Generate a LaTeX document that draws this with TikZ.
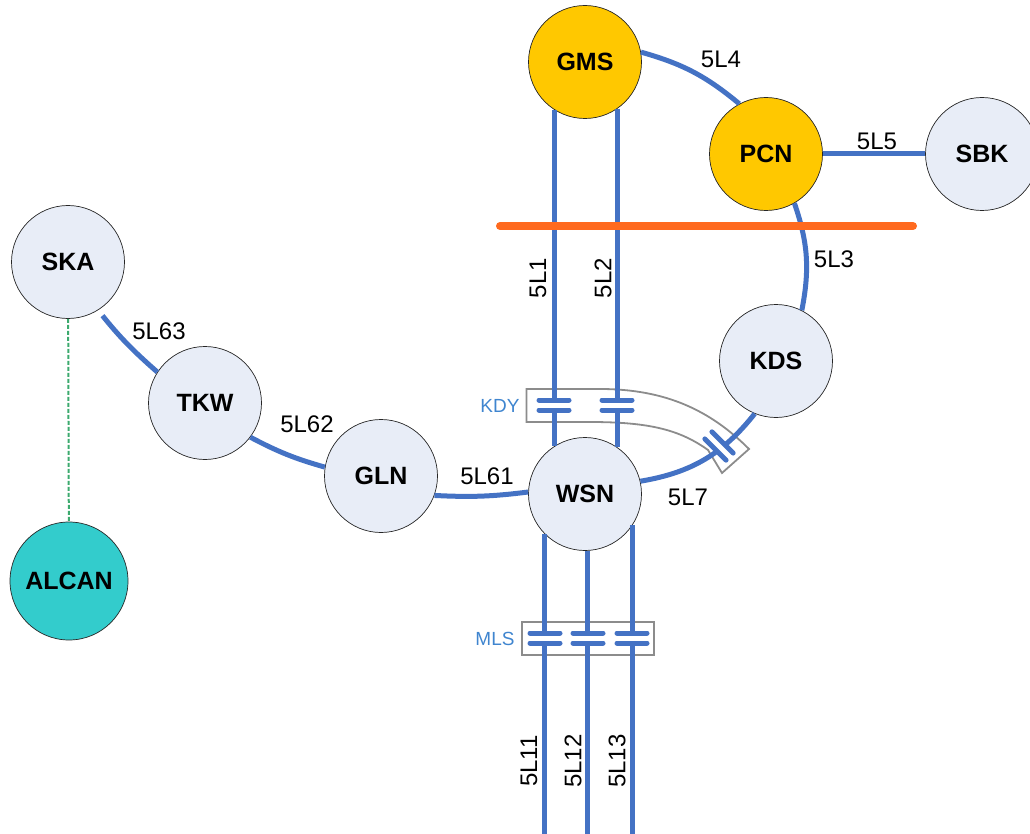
\documentclass[tikz,border=0pt]{standalone}
\usepackage{fontspec}
\setmainfont{Liberation Sans}
\definecolor{linkblue}{HTML}{4472C4}
\definecolor{boxgray}{HTML}{8C8C8C}
\definecolor{stationfill}{HTML}{E8EDF7}
\definecolor{goldfill}{HTML}{FFC800}
\definecolor{tealfill}{HTML}{33CCCC}
\definecolor{cutorange}{HTML}{FF6A1F}
\definecolor{capblue}{HTML}{3F85CF}
\definecolor{tiegreen}{HTML}{3CAA6E}
\tikzset{
  x=1pt,y=-1pt,
  station/.style={circle,draw=black!85,line width=0.7pt,fill=stationfill,minimum size=113pt,inner sep=0pt,font=\fontsize{25}{27}\selectfont\bfseries},
  gold/.style={station,fill=goldfill},
  teal/.style={station,fill=tealfill,minimum size=118pt},
  link/.style={draw=linkblue,line width=5pt},
  lbl/.style={font=\fontsize{24}{26}\selectfont,inner sep=0pt,text=black},
  caplbl/.style={font=\fontsize{19}{21}\selectfont,inner sep=0pt,text=capblue},
  capbox/.style={draw=boxgray,line width=1.8pt},
  plate/.style={draw=linkblue,line width=5pt,line cap=round},
  capacitor/.pic={
    \fill[white] (-15,-5) rectangle (15,5);
    \draw[plate] (-15,-5) -- (15,-5);
    \draw[plate] (-15,5) -- (15,5);
  }
}
\begin{document}
\begin{tikzpicture}
\useasboundingbox (0,0) rectangle (1030,834);
\coordinate (bottom) at (0,834);
% stations
\node[gold] (GMS) at (585,62) {GMS};
\node[gold] (PCN) at (766,154) {PCN};
\node[station] (SBK) at (982,154) {SBK};
\node[station] (KDS) at (776,361) {KDS};
\node[station] (WSN) at (585,494) {WSN};
\node[station] (GLN) at (381,476) {GLN};
\node[station] (TKW) at (205,403) {TKW};
\node[station] (SKA) at (68,262) {SKA};
\node[teal] (ALCAN) at (69,581) {ALCAN};
% capacitor boxes
\draw[capbox] (526.5,389) -- (600,389) .. controls (665,389) and (710,410) .. (749,449) -- (722,473) -- (708,450) .. controls (680,430) and (650,422) .. (590,422) -- (526.5,422) -- cycle;
\draw[capbox] (522,622) rectangle (654,655);
% connectors
\draw[link] (GMS.-123) -- (WSN.123);
\draw[link] (GMS.-55.5) -- (WSN.55.5);
\draw[link] (GMS.10) to[bend left=12] (PCN.118);
\draw[link] (PCN.east) -- (SBK.west);
\draw[link] (PCN.-60) to[bend left=15] (KDS.63);
\draw[link] (KDS.-112) to[bend left=21] (WSN.13);
\draw[link] (GLN.-20) to[bend right=5] (WSN.178);
\draw[link] (TKW.-37) to[bend right=6] (GLN.171);
\draw[link,shorten <=7pt] (SKA.-58) to[bend right=5] (TKW.147);
\draw[link] (WSN.-135) -- (WSN.-135 |- bottom);
\draw[link] (WSN.-87) -- (WSN.-87 |- bottom);
\draw[link] (WSN.-33.7) -- (WSN.-33.7 |- bottom);
\draw[tiegreen,line width=2pt,dash pattern=on 4pt off 2pt] (SKA) -- (ALCAN);
\draw[cutorange,line width=8pt,line cap=round] (500,226) -- (913,226);
% capacitors
\pic at (554,405) {capacitor};
\pic at (617,405) {capacitor};
\pic[rotate=-45] at (719,446) {capacitor};
\pic at (545,638) {capacitor};
\pic at (588,638) {capacitor};
\pic at (632,638) {capacitor};
% labels
\node[lbl] (l4) at (721,59) {5L4};
\node[lbl] (l5) at (877,141) {5L5};
\node[lbl] (l3) at (834,259) {5L3};
\node[lbl] (l63) at (159,331) {5L63};
\node[lbl] (l62) at (307,424) {5L62};
\node[lbl] (l61) at (487,476) {5L61};
\node[lbl] (l7) at (688,497) {5L7};
\node[lbl,rotate=90] (l1) at (538,278) {5L1};
\node[lbl,rotate=90] (l2) at (603,278) {5L2};
\node[lbl,rotate=90] (l11) at (529,761) {5L11};
\node[lbl,rotate=90] (l12) at (573,761) {5L12};
\node[lbl,rotate=90] (l13) at (617,761) {5L13};
\node[caplbl] (kdy) at (500,406) {KDY};
\node[caplbl] (mls) at (495,639) {MLS};
\end{tikzpicture}
\end{document}
